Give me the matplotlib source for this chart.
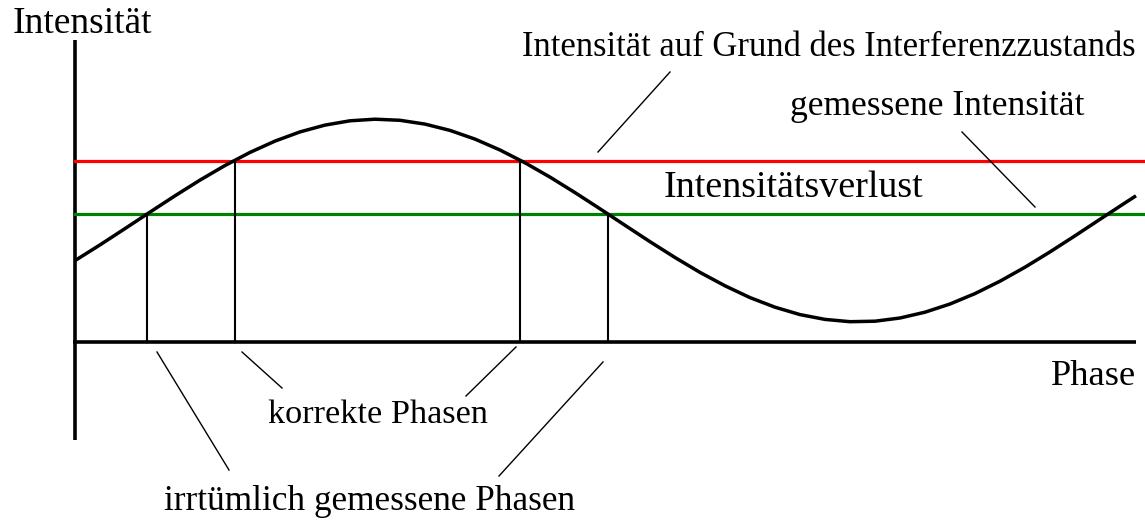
import matplotlib
matplotlib.use('Agg')
import matplotlib.pyplot as plt

plt.rcParams['font.family'] = ['Liberation Serif', 'DejaVu Serif']

phase = [0.0, 0.25, 0.5, 0.75, 1.0, 1.25, 1.5, 1.75, 2.0, 2.25, 2.5, 2.75,
         3.0, 3.25, 3.5, 3.75, 4.0, 4.25, 4.5, 4.75, 5.0, 5.25, 5.5, 5.75,
         6.0, 6.25, 6.5, 6.75, 7.0, 7.25, 7.5, 7.75, 8.0, 8.25, 8.5, 8.75,
         9.0, 9.25, 9.5, 9.75, 10.0, 10.25, 10.5, 10.61]
intensity = [0.814, 0.971, 1.134, 1.299, 1.462, 1.619, 1.765, 1.896, 2.009,
             2.101, 2.169, 2.212, 2.228, 2.217, 2.179, 2.116, 2.029, 1.920,
             1.792, 1.649, 1.494, 1.332, 1.167, 1.003, 0.845, 0.696, 0.562,
             0.444, 0.348, 0.274, 0.226, 0.203, 0.208, 0.240, 0.298, 0.380,
             0.484, 0.608, 0.748, 0.901, 1.062, 1.227, 1.391, 1.462]

level_interference = 1.815   # red line
level_measured = 1.28        # green line
correct_phases = [1.60, 4.45]
wrong_phases = [0.72, 5.33]

fig = plt.figure(figsize=(11.45, 5.25), dpi=100)
ax = fig.add_axes([0, 0, 1, 1])
ax.set_xlim(-0.75, 10.70)
ax.set_ylim(-1.83, 3.42)
ax.axis('off')

# axes
ax.plot([0, 0], [-0.98, 3.02], color='black', lw=2.6, solid_capstyle='butt')
ax.plot([-0.02, 10.61], [0, 0], color='black', lw=2.6, solid_capstyle='butt')

# level lines
ax.plot([0, 10.70], [level_interference] * 2, color='#ff0000', lw=2.3)
ax.plot([0, 10.70], [level_measured] * 2, color='#008000', lw=2.3)

# curve
ax.plot(phase, intensity, color='black', lw=2.5, solid_capstyle='butt')

# phase markers
for p in correct_phases:
    ax.plot([p, p], [0, level_interference], color='black', lw=1.5)
for p in wrong_phases:
    ax.plot([p, p], [0, level_measured], color='black', lw=1.5)

# leader lines
leaders = [
    ((5.95, 2.70), (5.23, 1.90)),
    ((8.87, 2.10), (9.60, 1.35)),
    ((1.67, -0.10), (2.07, -0.46)),
    ((4.41, -0.05), (3.91, -0.54)),
    ((0.82, -0.10), (1.54, -1.28)),
    ((5.28, -0.20), (4.24, -1.34)),
]
for (x0, y0), (x1, y1) in leaders:
    ax.plot([x0, x1], [y0, y1], color='black', lw=1.0)

# labels
ax.text(0.07, 3.09, 'Intensität', fontsize=27, ha='center', va='baseline')
ax.text(7.54, 2.86, 'Intensität auf Grund des Interferenzzustands',
        fontsize=24.9, ha='center', va='baseline')
ax.text(8.62, 2.27, 'gemessene Intensität', fontsize=25.6, ha='center', va='baseline')
ax.text(7.18, 1.45, 'Intensitätsverlust', fontsize=27.4, ha='center', va='baseline')
ax.text(10.19, -0.43, 'Phase', fontsize=26.2, ha='center', va='baseline')
ax.text(3.03, -0.81, 'korrekte Phasen', fontsize=24.7, ha='center', va='baseline')
ax.text(2.94, -1.68, 'irrtümlich gemessene Phasen', fontsize=25.4,
        ha='center', va='baseline')

fig.savefig('out.png', dpi=100)
